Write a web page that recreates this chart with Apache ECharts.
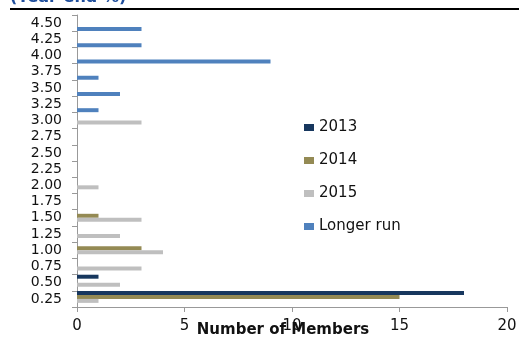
<!DOCTYPE html>
<html>
<head>
<meta charset="utf-8">
<style>html,body{margin:0;padding:0;background:#fff}#c{width:519px;height:347px}</style>
<script src="https://cdn.jsdelivr.net/npm/echarts@6/dist/echarts.min.js"></script>
</head>
<body>
<div id="c"></div>
<script>
var categories = ['0.25','0.50','0.75','1.00','1.25','1.50','1.75','2.00','2.25','2.50','2.75','3.00','3.25','3.50','3.75','4.00','4.25','4.50'];
var s2013 = [18,1,0,0,0,0,0,0,0,0,0,0,0,0,0,0,0,0];
var s2014 = [15,0,0,3,0,1,0,0,0,0,0,0,0,0,0,0,0,0];
var s2015 = [1,2,3,4,2,3,0,1,0,0,0,3,0,0,0,0,0,0];
var sLonger = [0,0,0,0,0,0,0,0,0,0,0,0,1,2,1,9,3,3];
var seriesNames = ['2013','2014','2015','Longer run'];
var colors = ['#17375e','#948a54','#bfbfbf','#4f81bd'];

var font = 'DejaVu Sans';
var chart = echarts.init(document.getElementById('c'));
function mk(name, data, color) {
  return {name: name, type: 'bar', data: data, barGap: '0%', barCategoryGap: '2%',
    itemStyle: {color: color}, emphasis: {disabled: true}};
}
chart.setOption({
  animation: false,
  color: colors,
  grid: {left: 77, right: 12, top: 15, bottom: 40, containLabel: false, outerBoundsMode: 'none'},
  graphic: [
    {type: 'text', left: 10, top: -10, style: {text: '(Year-end %)', font: 'bold 16px "DejaVu Sans"', fill: '#1f4e9c'}},
    {type: 'rect', shape: {x: 10, y: 8, width: 509, height: 2}, style: {fill: '#000'}}
  ],
  legend: {
    orient: 'vertical', left: 299, top: 115, itemGap: 18, itemWidth: 10, itemHeight: 7,
    icon: 'rect', data: seriesNames,
    textStyle: {fontFamily: font, fontSize: 15, color: '#111', padding: [0,0,0,0]}
  },
  xAxis: {
    type: 'value', min: 0, max: 20, interval: 5,
    name: 'Number of Members', nameLocation: 'middle', nameGap: 16, nameMoveOverlap: false,
    nameTextStyle: {fontFamily: font, fontSize: 15, fontWeight: 'bold', color: '#111', padding: [0,18,0,0]},
    axisLine: {show: true, lineStyle: {color: '#999'}},
    axisTick: {show: true, length: 5, lineStyle: {color: '#999'}},
    axisLabel: {fontFamily: font, fontSize: 15, color: '#111', margin: 12},
    splitLine: {show: false}
  },
  yAxis: {
    type: 'category', data: categories,
    axisLine: {show: true, lineStyle: {color: '#999'}},
    axisTick: {show: true, length: 5, lineStyle: {color: '#999'}},
    axisLabel: {interval: 0, fontFamily: font, fontSize: 14, color: '#111', margin: 15}
  },
  series: [mk('2013', s2013, colors[0]), mk('2014', s2014, colors[1]), mk('2015', s2015, colors[2]), mk('Longer run', sLonger, colors[3])]
});
</script>
</body>
</html>
